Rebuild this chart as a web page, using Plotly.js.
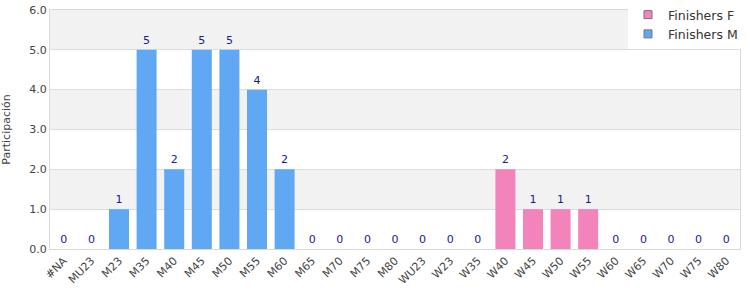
<!DOCTYPE html>
<html>
<head>
<meta charset="utf-8">
<script src="https://cdn.plot.ly/plotly-3.0.1.min.js"></script>
<style>html,body{margin:0;padding:0;background:#fff;}#chart{width:750px;height:300px;}</style>
</head>
<body>
<div id="chart"></div>
<script>
const categories = ["#NA","MU23","M23","M35","M40","M45","M50","M55","M60","M65","M70","M75","M80","WU23","W23","W35","W40","W45","W50","W55","W60","W65","W70","W75","W80"];
const catsM = ["#NA","MU23","M23","M35","M40","M45","M50","M55","M60","M65","M70","M75","M80"];
const valuesM = [0,0,1,5,2,5,5,4,2,0,0,0,0];
const catsF = ["WU23","W23","W35","W40","W45","W50","W55","W60","W65","W70","W75","W80"];
const valuesF = [0,0,0,2,1,1,1,0,0,0,0,0];
const yTicks = [0,1,2,3,4,5,6];
const colorF = '#f383bb';
const colorM = '#60a8f4';

const bands = [];
for (let i = 1; i + 1 < yTicks.length; i += 2) {
  bands.push({type:'rect', xref:'paper', yref:'y', x0:0, x1:1, y0:yTicks[i], y1:yTicks[i+1], fillcolor:'#f2f2f2', line:{width:0}, layer:'below'});
}

const labelFont = {family:'DejaVu Sans, sans-serif', size:11, color:'#1a1a8c'};
const traces = [
  {type:'bar', name:'Finishers F', x:catsF, y:valuesF, marker:{color:colorF}, text:valuesF.map(String), textposition:'outside', textfont:labelFont, cliponaxis:false, showlegend:false},
  {type:'bar', name:'Finishers M', x:catsM, y:valuesM, marker:{color:colorM}, text:valuesM.map(String), textposition:'outside', textfont:labelFont, cliponaxis:false, showlegend:false},
  {type:'scatter', mode:'markers', name:'Finishers F', x:[null], y:[null], marker:{symbol:'square', size:8, color:colorF, line:{color:'#777', width:1}}, showlegend:true},
  {type:'scatter', mode:'markers', name:'Finishers M', x:[null], y:[null], marker:{symbol:'square', size:8, color:colorM, line:{color:'#777', width:1}}, showlegend:true}
];

const layout = {
  width:750, height:300,
  margin:{l:50, r:10, t:0, b:51},
  paper_bgcolor:'#fff', plot_bgcolor:'#fff',
  font:{family:'DejaVu Sans, sans-serif', size:11, color:'#444'},
  barmode:'overlay', bargap:0.275,
  showlegend:true,
  legend:{x:0.8377, xanchor:'left', y:1, yanchor:'top', bgcolor:'#fff', font:{size:12.5, color:'#333'}, traceorder:'normal', tracegroupgap:0, itemwidth:30},
  xaxis:{type:'category', categoryorder:'array', categoryarray:categories, tickangle:-45, tickfont:{size:11, color:'#444'}, showline:true, linecolor:'#d9d9d9', mirror:true, ticks:'', showgrid:false, fixedrange:true},
  yaxis:{domain:[0,0.96], range:[0,6], tickvals:yTicks, ticktext:yTicks.map(v=>v.toFixed(1)), tickfont:{size:11, color:'#444'}, showline:true, linecolor:'#d9d9d9', mirror:true, gridcolor:'#dcdcdc', zeroline:false, ticks:'', title:{text:'Participación', font:{size:11, color:'#444'}, standoff:16}, fixedrange:true},
  shapes:bands
};

Plotly.newPlot('chart', traces, layout, {displayModeBar:false, staticPlot:true});
</script>
</body>
</html>
